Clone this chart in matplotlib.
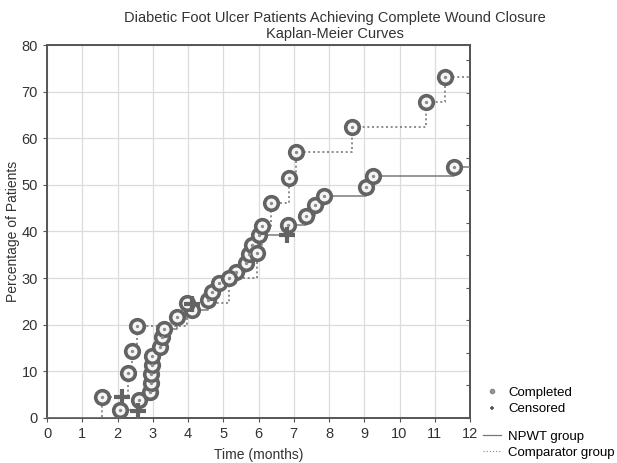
import matplotlib.pyplot as plt
from matplotlib.lines import Line2D
import numpy as np

plt.rcParams["font.family"] = ["Liberation Sans", "DejaVu Sans"]

# NPWT group (solid): event times (months) and cumulative % closed
npwt_t = [2.07, 2.62, 2.93, 2.95, 2.96, 2.97, 2.98, 3.20, 3.27, 3.33, 3.70, 4.11,
          4.58, 4.68, 4.87, 5.37, 5.65, 5.72, 5.81, 6.00, 6.83, 7.35, 7.61, 7.87,
          9.06, 9.24, 11.54]
npwt_v = [1.7, 3.9, 5.6, 7.6, 9.4, 11.4, 13.4, 15.3, 17.3, 19.0, 21.6, 23.2,
          25.3, 27.1, 28.9, 31.3, 33.2, 35.1, 37.1, 39.3, 41.4, 43.4, 45.6, 47.7,
          49.6, 51.8, 53.9]
npwt_cens_t = [2.58, 6.80]
npwt_cens_v = [1.6, 39.3]

# Comparator group (dotted)
comp_t = [1.55, 2.31, 2.40, 2.54, 3.97, 5.15, 5.96, 6.10, 6.35, 6.87, 7.07, 8.66,
          10.74, 11.30]
comp_v = [4.6, 9.6, 14.4, 19.7, 24.6, 30.0, 35.3, 41.1, 46.2, 51.5, 57.0, 62.4,
          67.7, 73.2]
comp_cens_t = [2.12, 4.11]
comp_cens_v = [4.6, 24.4]

x_ticks = list(range(0, 13))
y_ticks = list(range(0, 81, 10))

line_col = "#7a7a7a"
mark_col = "#636363"
spine_col = "#555555"
txt_col = "#333333"

fig = plt.figure(figsize=(6.17, 4.63), dpi=100)
ax = fig.add_axes([0.0762, 0.0972, 0.6856, 0.8056])

t_end = x_ticks[-1]
ax.step([0] + npwt_t + [t_end], [0] + npwt_v + [npwt_v[-1]], where="post",
        color=line_col, lw=1.1, ls="-", zorder=3)
ax.step([0] + comp_t + [t_end], [0] + comp_v + [comp_v[-1]], where="post",
        color=line_col, lw=1.2, ls=(0, (1.2, 1.6)), zorder=3)

for ts, vs in [(npwt_t, npwt_v), (comp_t, comp_v)]:
    ax.plot(ts, vs, "o", ms=9.8, mfc="#f4f4f4", mec=mark_col, mew=2.6, zorder=4, clip_on=False)
    ax.plot(ts, vs, "o", ms=2.4, mfc="#8a8a8a", mec="none", zorder=5, clip_on=False)

ax.plot(npwt_cens_t + comp_cens_t, npwt_cens_v + comp_cens_v, "+", ms=11,
        mew=3, color=mark_col, zorder=5)

ax.set_xlim(0, 12)
ax.set_ylim(0, 80)
ax.set_xticks(x_ticks)
ax.set_yticks(y_ticks)
ax.grid(True, color="#dcdcdc", lw=0.9)
ax.set_axisbelow(True)
ax.tick_params(labelsize=10.5, colors=txt_col, length=3, color=spine_col)
for s in ax.spines.values():
    s.set_color(spine_col)
    s.set_linewidth(1.4)

right = ax.secondary_yaxis("right")
right.set_yticks(np.arange(0, 80, 6.98))
right.tick_params(direction="in", length=3, labelright=False, color=spine_col)
right.spines["right"].set_color(spine_col)
right.spines["right"].set_linewidth(1.4)

ax.set_xlabel("Time (months)", fontsize=10, color=txt_col, labelpad=5)
ax.set_ylabel("Percentage of Patients", fontsize=10, color=txt_col)
ax.yaxis.set_label_coords(-0.064, 0.5)

fig.text(0.543, 0.962, "Diabetic Foot Ulcer Patients Achieving Complete Wound Closure",
         ha="center", va="center", fontsize=10.5, color=txt_col)
fig.text(0.543, 0.927, "Kaplan-Meier Curves", ha="center", va="center",
         fontsize=10.5, color=txt_col)

marks = [Line2D([], [], ls="none", marker="o", ms=3, mfc="#999999", mec="#888888"),
         Line2D([], [], ls="none", marker="+", ms=3, mew=1.2, color="#555555")]
fig.legend(marks, ["Completed", "Censored"], loc="center left",
           bbox_to_anchor=(0.772, 0.134), frameon=False, fontsize=9.5,
           handlelength=1.4, labelspacing=0.3, handletextpad=0.5, borderpad=0)
lines = [Line2D([], [], color="#777777", lw=0.9),
         Line2D([], [], color="#999999", lw=0.9, ls=(0, (1, 1.5)))]
fig.legend(lines, ["NPWT group", "Comparator group"], loc="center left",
           bbox_to_anchor=(0.772, 0.04), frameon=False, fontsize=9.5,
           handlelength=1.4, labelspacing=0.3, handletextpad=0.5, borderpad=0)

fig.savefig("out.png", dpi=100)
